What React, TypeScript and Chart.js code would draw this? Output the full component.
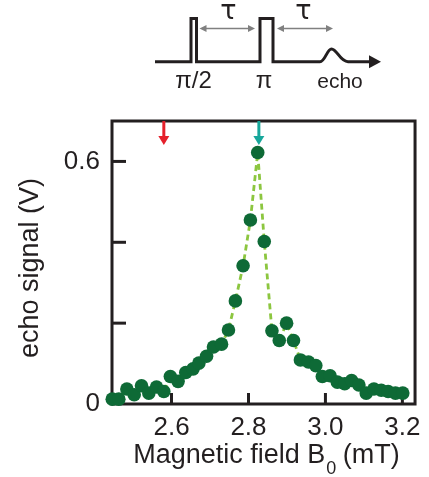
import React, { useEffect, useRef } from "react";
import { Chart, registerables } from "chart.js";

Chart.register(...registerables);

// Echo signal vs magnetic field
const FIELD_MT = [
  2.446, 2.463, 2.484, 2.503, 2.522, 2.541, 2.561, 2.58, 2.597, 2.617, 2.637,
  2.656, 2.671, 2.691, 2.709, 2.73, 2.748, 2.766, 2.786, 2.805, 2.824, 2.841,
  2.861, 2.88, 2.899, 2.917, 2.935, 2.956, 2.975, 2.992, 3.012, 3.031, 3.05,
  3.068, 3.087, 3.106, 3.126, 3.145, 3.163, 3.182, 3.201,
];
const ECHO_V = [
  0.012, 0.012, 0.037, 0.023, 0.045, 0.027, 0.042, 0.031, 0.068, 0.056, 0.078,
  0.087, 0.101, 0.118, 0.141, 0.148, 0.183, 0.255, 0.342, 0.455, 0.622, 0.402,
  0.181, 0.157, 0.2, 0.157, 0.109, 0.104, 0.095, 0.068, 0.07, 0.054, 0.05,
  0.058, 0.047, 0.027, 0.037, 0.034, 0.031, 0.027, 0.027,
];
const X_TICKS = [2.6, 2.8, 3.0, 3.2];
const Y_TICKS = [0, 0.2, 0.4, 0.6];
const Y_TICK_LABELS = ["0", "", "", "0.6"];
const X_MIN = 2.4453;
const X_MAX = 3.2329;
const Y_MIN = 0;
const Y_MAX = 0.7;
const ARROW_FIELDS = [2.58, 2.827];
const ARROW_COLORS = ["#e5202b", "#17a79b"];

const X_TITLE_MAIN = "Magnetic field B";
const X_TITLE_SUB = "0";
const X_TITLE_END = " (mT)";
const Y_TITLE = "echo signal (V)";
const PULSE_LABELS = ["\u03c0/2", "\u03c0", "echo"];
const TAU = "\u03c4";

const FONT = "'Liberation Sans', Arial, sans-serif";
const INK = "#231f20";

const framePlugin = {
  id: "frame",
  beforeDatasetsDraw(chart: any) {
    const { ctx, chartArea } = chart;
    const xs = chart.scales.x;
    const ys = chart.scales.y;
    ctx.save();
    ctx.strokeStyle = INK;
    ctx.lineWidth = 3;
    ctx.strokeRect(
      chartArea.left,
      chartArea.top,
      chartArea.right - chartArea.left,
      chartArea.bottom - chartArea.top
    );
    // inward ticks
    X_TICKS.forEach((v) => {
      const px = xs.getPixelForValue(v);
      ctx.beginPath();
      ctx.moveTo(px, chartArea.bottom);
      ctx.lineTo(px, chartArea.bottom - 11);
      ctx.stroke();
    });
    Y_TICKS.forEach((v) => {
      if (v === Y_MIN) return;
      const py = ys.getPixelForValue(v);
      ctx.beginPath();
      ctx.moveTo(chartArea.left, py);
      ctx.lineTo(chartArea.left + 14, py);
      ctx.stroke();
    });
    ctx.restore();
  },
  afterDatasetsDraw(chart: any) {
    const { ctx, chartArea } = chart;
    const xs = chart.scales.x;
    ctx.save();
    ARROW_FIELDS.forEach((f, i) => {
      const px = xs.getPixelForValue(f);
      ctx.strokeStyle = ARROW_COLORS[i];
      ctx.fillStyle = ARROW_COLORS[i];
      ctx.lineWidth = 3;
      ctx.beginPath();
      ctx.moveTo(px, chartArea.top);
      ctx.lineTo(px, chartArea.top + 16);
      ctx.stroke();
      ctx.beginPath();
      ctx.moveTo(px - 5.5, chartArea.top + 15);
      ctx.lineTo(px + 5.5, chartArea.top + 15);
      ctx.lineTo(px, chartArea.top + 24);
      ctx.closePath();
      ctx.fill();
    });
    ctx.restore();
  },
  afterDraw(chart: any) {
    const { ctx } = chart;
    ctx.save();
    // axis titles
    ctx.fillStyle = INK;
    ctx.font = `27px ${FONT}`;
    const wMain = ctx.measureText(X_TITLE_MAIN).width;
    const wEnd = ctx.measureText(X_TITLE_END).width;
    ctx.font = `18px ${FONT}`;
    const wSub = ctx.measureText(X_TITLE_SUB).width;
    const total = wMain + wSub + wEnd;
    let x0 = 266.5 - total / 2;
    ctx.textBaseline = "alphabetic";
    ctx.textAlign = "left";
    ctx.font = `27px ${FONT}`;
    ctx.fillText(X_TITLE_MAIN, x0, 463);
    ctx.font = `18px ${FONT}`;
    ctx.fillText(X_TITLE_SUB, x0 + wMain + 1, 474);
    ctx.font = `27px ${FONT}`;
    ctx.fillText(X_TITLE_END, x0 + wMain + wSub, 463);

    ctx.save();
    ctx.translate(31, 268);
    ctx.rotate(-Math.PI / 2);
    ctx.textAlign = "center";
    ctx.textBaseline = "middle";
    ctx.font = `27px ${FONT}`;
    ctx.fillText(Y_TITLE, 0, 0);
    ctx.restore();

    // pulse sequence diagram
    const base = 61.7;
    const top = 18.5;
    ctx.strokeStyle = INK;
    ctx.fillStyle = INK;
    ctx.lineWidth = 3;
    ctx.lineJoin = "miter";
    ctx.beginPath();
    ctx.moveTo(155, base);
    ctx.lineTo(191, base);
    ctx.lineTo(191, top);
    ctx.lineTo(196.5, top);
    ctx.lineTo(196.5, base);
    ctx.lineTo(260, base);
    ctx.lineTo(260, top);
    ctx.lineTo(273, top);
    ctx.lineTo(273, base);
    ctx.lineTo(320, base);
    ctx.bezierCurveTo(325, base, 327, 49, 331.5, 49);
    ctx.bezierCurveTo(337, 49, 340, base, 348, base);
    ctx.lineTo(372, base);
    ctx.stroke();
    ctx.beginPath();
    ctx.moveTo(369, base - 6.5);
    ctx.lineTo(381, base);
    ctx.lineTo(369, base + 6.5);
    ctx.closePath();
    ctx.fill();

    // tau arrows
    const gy = 28.5;
    ctx.strokeStyle = "#808080";
    ctx.fillStyle = "#808080";
    ctx.lineWidth = 1.5;
    const dbl = (a: number, b: number) => {
      ctx.beginPath();
      ctx.moveTo(a + 4, gy);
      ctx.lineTo(b - 4, gy);
      ctx.stroke();
      ctx.beginPath();
      ctx.moveTo(a, gy);
      ctx.lineTo(a + 7, gy - 3.5);
      ctx.lineTo(a + 7, gy + 3.5);
      ctx.closePath();
      ctx.fill();
      ctx.beginPath();
      ctx.moveTo(b, gy);
      ctx.lineTo(b - 7, gy - 3.5);
      ctx.lineTo(b - 7, gy + 3.5);
      ctx.closePath();
      ctx.fill();
    };
    dbl(199.5, 255);
    dbl(277, 333);

    ctx.fillStyle = INK;
    ctx.textAlign = "center";
    ctx.textBaseline = "alphabetic";
    ctx.font = `27px 'DejaVu Sans', ${FONT}`;
    ctx.fillText(TAU, 228.5, 18.5);
    ctx.fillText(TAU, 303.5, 18.5);
    ctx.font = `24px ${FONT}`;
    ctx.fillText(PULSE_LABELS[0], 193.5, 88);
    ctx.fillText(PULSE_LABELS[1], 264, 88);
    ctx.font = `21px ${FONT}`;
    ctx.fillText(PULSE_LABELS[2], 340, 87.5);
    ctx.restore();
  },
};

export default function App() {
  const ref = useRef<HTMLCanvasElement | null>(null);
  useEffect(() => {
    if (!ref.current) return;
    Chart.defaults.font.family = FONT;
    const chart = new Chart(ref.current, {
      type: "line",
      data: {
        datasets: [
          {
            data: FIELD_MT.map((x, i) => ({ x, y: ECHO_V[i] })),
            borderColor: "#8cc63f",
            borderWidth: 2.8,
            borderDash: [6, 4],
            pointRadius: 6.8,
            pointBackgroundColor: "#0e6a36",
            pointBorderColor: "#0e6a36",
            pointBorderWidth: 0,
            tension: 0,
            clip: false as any,
          },
        ],
      },
      options: {
        responsive: false,
        animation: false,
        devicePixelRatio: 1,
        layout: { padding: { top: 121, right: 13, left: 0, bottom: 0 } },
        plugins: { legend: { display: false }, tooltip: { enabled: false } },
        scales: {
          x: {
            type: "linear",
            min: X_MIN,
            max: X_MAX,
            grid: { display: false, drawTicks: false },
            border: { display: false },
            ticks: {
              autoSkip: false,
              maxRotation: 0,
              padding: 8,
              color: INK,
              font: { size: 26 },
              callback: (v: any) => Number(v).toFixed(1),
            },
            afterBuildTicks: (s: any) => {
              s.ticks = X_TICKS.map((value) => ({ value }));
            },
            afterFit: (s: any) => {
              s.height = 73;
            },
          },
          y: {
            type: "linear",
            min: Y_MIN,
            max: Y_MAX,
            grid: { display: false, drawTicks: false },
            border: { display: false },
            ticks: {
              autoSkip: false,
              padding: 12,
              color: INK,
              font: { size: 26 },
              callback: (_v: any, i: number) => Y_TICK_LABELS[i],
            },
            afterBuildTicks: (s: any) => {
              s.ticks = Y_TICKS.map((value) => ({ value }));
            },
            afterFit: (s: any) => {
              s.width = 112;
            },
          },
        },
      },
      plugins: [framePlugin],
    } as any);
    return () => chart.destroy();
  }, []);
  return (
    <div style={{ position: "fixed", left: 0, top: 0, width: 429, height: 477, background: "#fff" }}>
      <canvas ref={ref} width={429} height={477} />
    </div>
  );
}
